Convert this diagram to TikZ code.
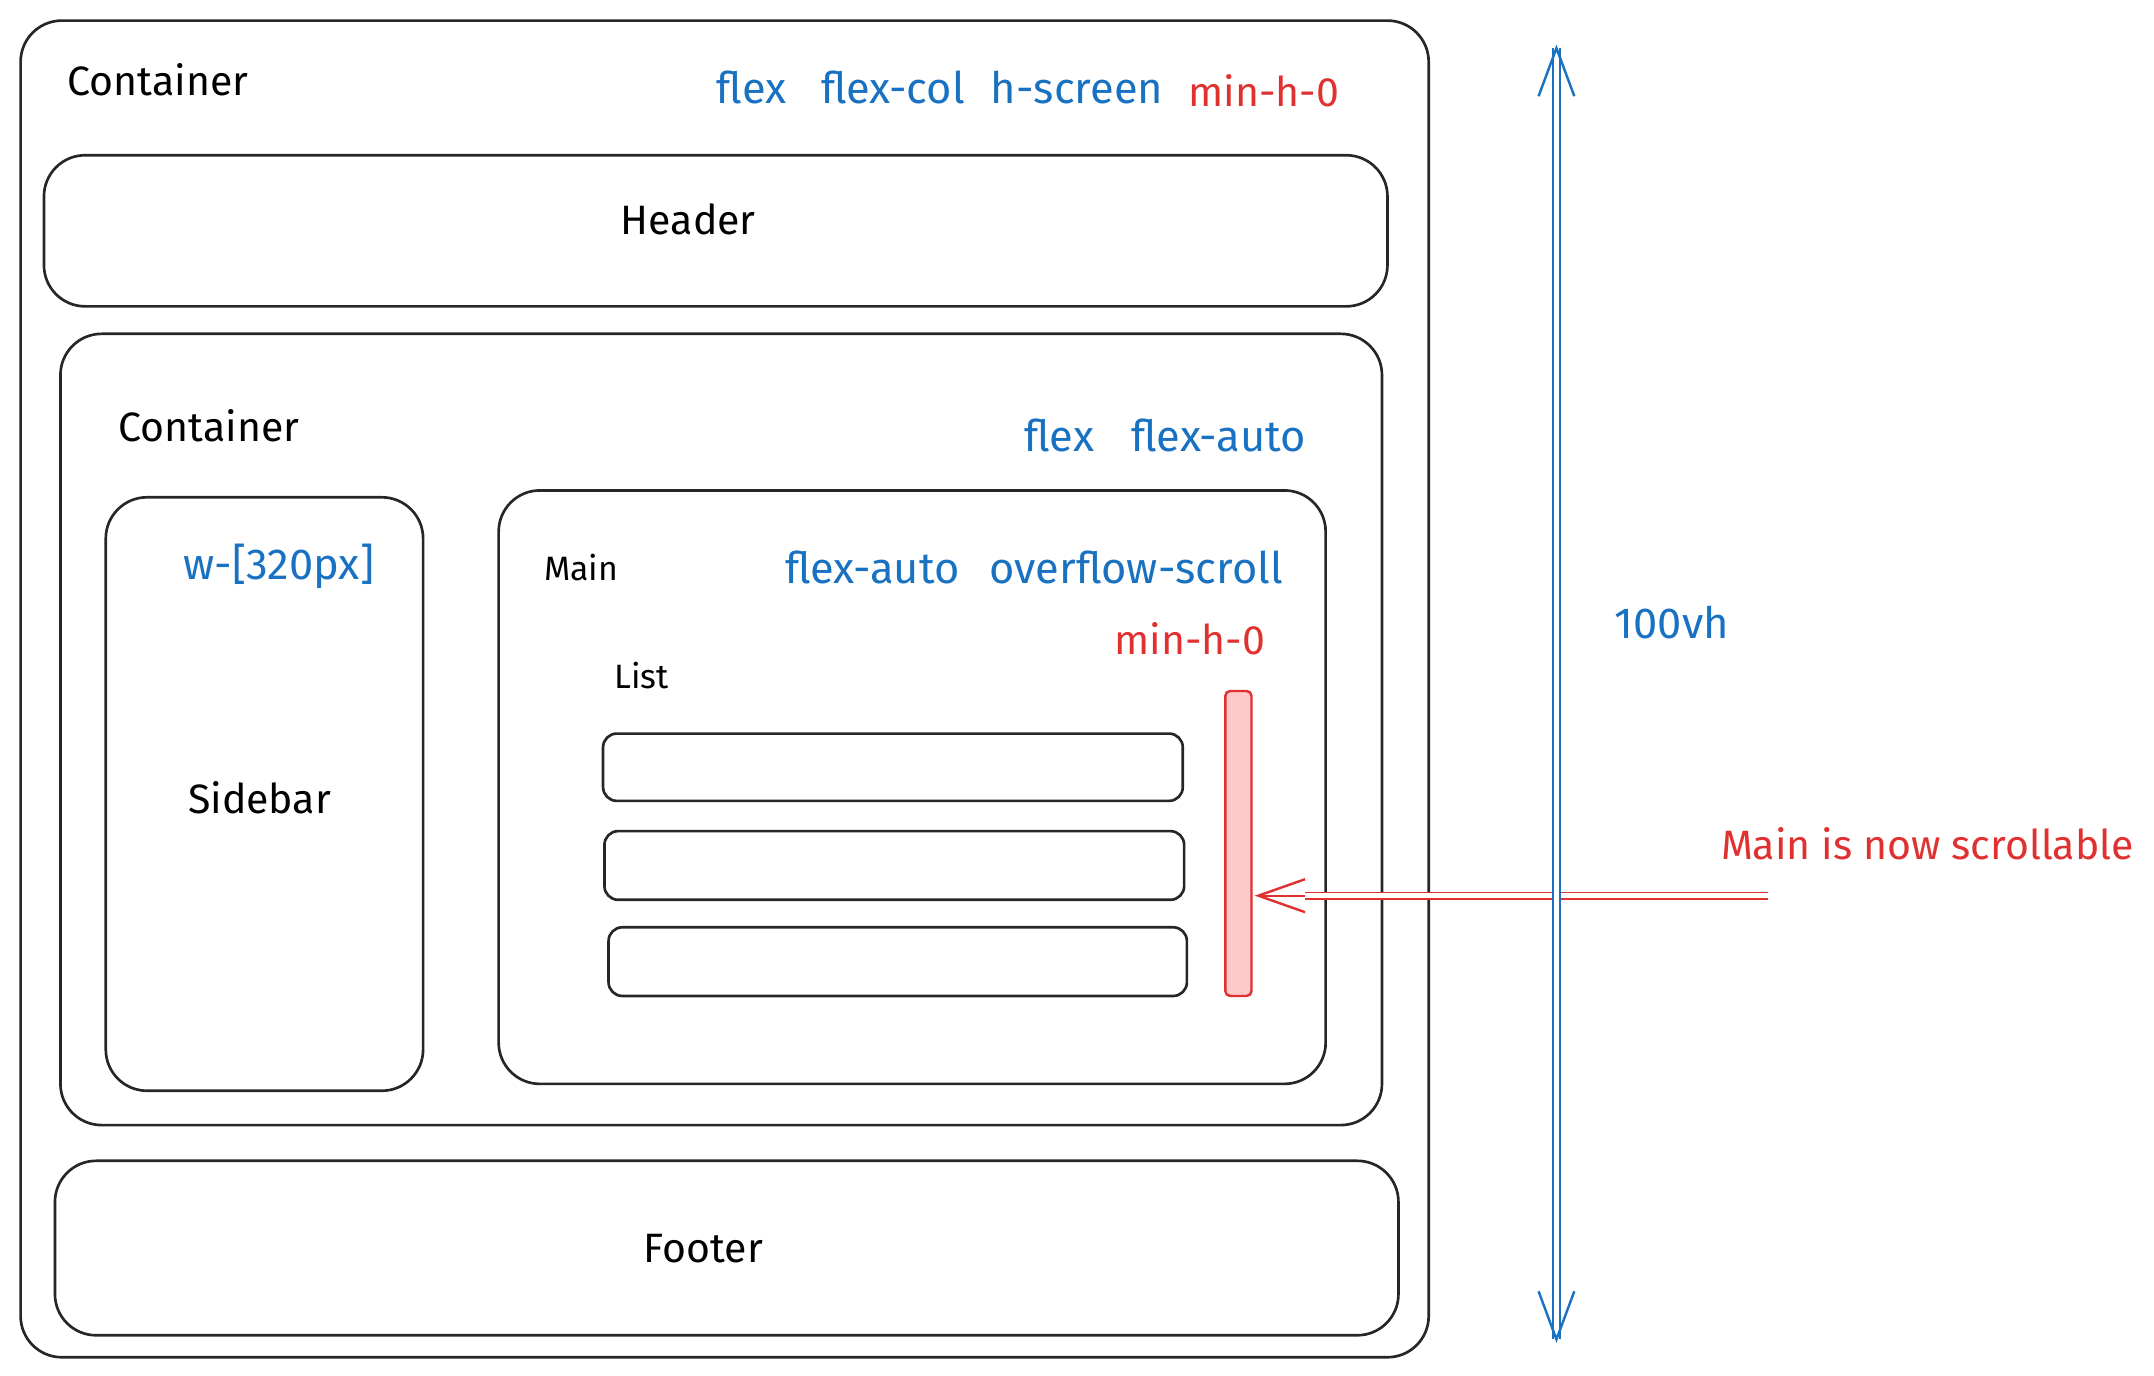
\documentclass[tikz,border=0pt]{standalone}
\usepackage{fontspec}
\setmainfont{Fira Sans}
\definecolor{cblue}{HTML}{1971C2}
\definecolor{cred}{HTML}{E03131}
\definecolor{cpink}{HTML}{FFC9C9}
\begin{document}
\begin{tikzpicture}[x=0.02cm,y=-0.02cm,
  box/.style={draw=black!85,line width=1.1pt,rounded corners=0.6cm},
  item/.style={draw=black!85,line width=1.1pt,rounded corners=0.2cm},
  txt/.style={font=\fontsize{17}{20}\selectfont,text=black},
  btxt/.style={font=\fontsize{18}{21}\selectfont,text=cblue},
  rtxt/.style={font=\fontsize{17}{20}\selectfont,text=cred},
  stxt/.style={font=\fontsize{14}{17}\selectfont,text=black}]
\useasboundingbox (0,0) rectangle (1568,1001);
\draw[box] (15,15) rectangle (1040,988);
\node[txt] (c1) at (115,58) {Container};
\node[btxt] (f1) at (547,64) {flex};
\node[btxt] (f2) at (650,64) {flex-col};
\node[btxt] (f3) at (784,64) {h-screen};
\node[rtxt] (f4) at (920,66) {min-h-0};
\draw[box] (32,113) rectangle (1010,223);
\node[txt] (hd) at (501,160) {Header};
\draw[box] (44,243) rectangle (1006,819);
\node[txt] (c2) at (152,310) {Container};
\node[btxt] (g1) at (771,317) {flex};
\node[btxt] (g2) at (887,317) {flex-auto};
\draw[box] (77,362) rectangle (308,794);
\node[btxt] (w) at (203,412) {w-[320px]};
\node[txt] (sb) at (189,581) {Sidebar};
\draw[box] (363,357) rectangle (965,789);
\node[stxt] (mn) at (423,413) {Main};
\node[btxt] (m1) at (635,413) {flex-auto};
\node[btxt] (m2) at (827,413) {overflow-scroll};
\node[rtxt] (m3) at (866,465) {min-h-0};
\node[stxt] (ls) at (467,492) {List};
\draw[item] (439,534) rectangle (861,583);
\draw[item] (440,605) rectangle (862,655);
\draw[item] (443,675) rectangle (864,725);
\draw[draw=cred,fill=cpink,line width=1pt,rounded corners=2pt] (892,503) rectangle (911,725);
\coordinate (as) at (1287,652);
\coordinate (ae) at (916,652);
\draw[cred,double,double distance=2pt,line width=0.7pt] (as) -- (950,652);
\draw[cred,line width=1pt] (950,640) -- (ae) -- (950,664);
\draw[cred,line width=0.7pt] (ae) -- (950,652);
\node[rtxt] (ms) at (1403,614) {Main is now scrollable};
\coordinate (vt) at (1133,35);
\coordinate (vb) at (1133,975);
\draw[cblue,double,double distance=2pt,line width=0.7pt] (vt) -- (vb);
\draw[cblue,line width=1pt] (1120,70) -- (vt) -- (1146,70);
\draw[cblue,line width=1pt] (1120,940) -- (vb) -- (1146,940);
\node[btxt] (vh) at (1217,453) {100vh};
\draw[box] (40,845) rectangle (1018,972);
\node[txt] (ft) at (512,909) {Footer};
\end{tikzpicture}
\end{document}
